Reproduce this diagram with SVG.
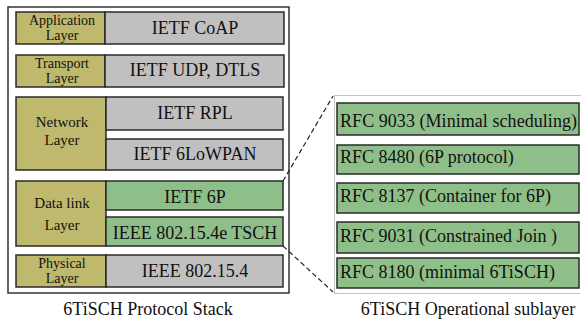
<svg xmlns="http://www.w3.org/2000/svg" width="581" height="322" viewBox="0 0 581 322">
<style>
text{font-family:"Liberation Serif","Times New Roman",serif;fill:#111}
.lay{fill:#BFB96E;stroke:#2a2a2a;stroke-width:1.5}
.gr{fill:#C0C0C0;stroke:#2a2a2a;stroke-width:1.5}
.gn{fill:#8FBF89;stroke:#2a2a2a;stroke-width:1.5}
.lt{font-size:15px;text-anchor:middle}
.ls{font-size:14px;text-anchor:middle}
.mt{font-size:18px;text-anchor:middle}
.rt{font-size:18px}
.cap{font-size:18px;text-anchor:middle}
</style>
<rect id="stack" x="8" y="7" width="281" height="286" fill="#fff" stroke="#333" stroke-width="1.5"/>
<g id="app">
<rect class="lay" x="16" y="12" width="89" height="32"/>
<rect class="gr" x="105" y="12" width="179" height="32"/>
<text class="ls" x="62" y="24.5">Application</text>
<text class="ls" x="62" y="39.5">Layer</text>
<text class="mt" x="195" y="34">IETF CoAP</text>
</g>
<g id="transport">
<rect class="lay" x="16" y="55" width="89" height="32"/>
<rect class="gr" x="105" y="55" width="179" height="32"/>
<text class="ls" x="62" y="68">Transport</text>
<text class="ls" x="62" y="82.5">Layer</text>
<text class="mt" x="195" y="76">IETF UDP, DTLS</text>
</g>
<g id="network">
<rect class="lay" x="16" y="97" width="90" height="73"/>
<rect class="gr" x="106" y="97" width="177" height="33"/>
<rect class="gr" x="106" y="139" width="177" height="31"/>
<text class="lt" x="62" y="127">Network</text>
<text class="lt" x="62" y="145">Layer</text>
<text class="mt" x="195" y="119">IETF RPL</text>
<text class="mt" x="195" y="160">IETF 6LoWPAN</text>
</g>
<g id="datalink">
<rect class="lay" x="16" y="181" width="90" height="65"/>
<rect class="gn" x="106" y="181" width="177" height="29"/>
<rect class="gn" x="106" y="217" width="177" height="29"/>
<text class="lt" x="62" y="208">Data link</text>
<text class="lt" x="62" y="230">Layer</text>
<text class="mt" x="195" y="203">IETF 6P</text>
<text class="mt" x="195" y="239">IEEE 802.15.4e TSCH</text>
</g>
<g id="physical">
<rect class="lay" x="16" y="255" width="90" height="32"/>
<rect class="gr" x="106" y="255" width="177" height="32"/>
<text class="ls" x="62" y="268">Physical</text>
<text class="ls" x="62" y="282.5">Layer</text>
<text class="mt" x="195" y="277">IEEE 802.15.4</text>
</g>
<text class="cap" x="148" y="315">6TiSCH Protocol Stack</text>
<g id="connectors" fill="none" stroke="#222" stroke-width="1.2" stroke-dasharray="5,3">
<line x1="283" y1="181" x2="333" y2="96"/>
<line x1="283" y1="246" x2="333" y2="292"/>
</g>
<g id="sublayer">
<path d="M580.5,95.5 H334.5 V293.5 H580.5" fill="none" stroke="#888" stroke-width="1" stroke-dasharray="1,1"/>
<rect class="gn" x="337" y="103" width="242" height="32"/>
<rect class="gn" x="337" y="145" width="242" height="29"/>
<rect class="gn" x="337" y="183" width="242" height="30"/>
<rect class="gn" x="337" y="222" width="242" height="31"/>
<rect class="gn" x="337" y="258" width="242" height="30"/>
<text class="rt" x="340" y="127" textLength="237">RFC 9033 (Minimal scheduling)</text>
<text class="rt" x="340" y="163">RFC 8480 (6P protocol)</text>
<text class="rt" x="340" y="202">RFC 8137 (Container for 6P)</text>
<text class="rt" x="340" y="242">RFC 9031 (Constrained Join )</text>
<text class="rt" x="340" y="278">RFC 8180 (minimal 6TiSCH)</text>
<text class="cap" x="468" y="315">6TiSCH Operational sublayer</text>
</g>
</svg>
